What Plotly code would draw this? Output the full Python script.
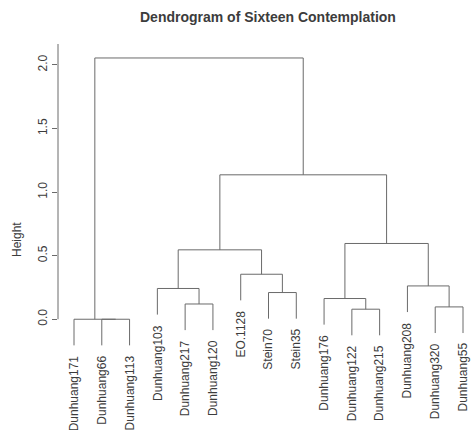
import plotly.graph_objects as go

# ---- data ----
labels = ["Dunhuang171", "Dunhuang66", "Dunhuang113", "Dunhuang103", "Dunhuang217",
          "Dunhuang120", "EO.1128", "Stein70", "Stein35", "Dunhuang176",
          "Dunhuang122", "Dunhuang215", "Dunhuang208", "Dunhuang320", "Dunhuang55"]
# R-style merge matrix: negative = leaf (1-based), positive = earlier merge (1-based)
merge_left = [-2, -1, -11, -14, -5, -10, -8, -4, -13, -7, 8, 6, 11, 2]
merge_right = [-3, 1, -12, -15, -6, 3, -9, 5, 4, 7, 10, 9, 12, 13]
merge_height = [0.0, 0.0, 0.079, 0.097, 0.12, 0.163, 0.21, 0.242, 0.262, 0.354,
                0.546, 0.596, 1.136, 2.055]
y_ticks = [0.0, 0.5, 1.0, 1.5, 2.0]
y_tick_text = ["0.0", "0.5", "1.0", "1.5", "2.0"]

title = "Dendrogram of Sixteen Contemplation"
y_title = "Height"

hang = 0.1 * max(merge_height)
line_color = "#6a6a6a"
text_color = "#3c3c3c"
font = "Liberation Sans, Arial, sans-serif"

W, H = 472, 430
ml, mt, mb = 58, 44, 73
# axis ranges
x_range = [1 - 16 / 27.786, 15 + 9 / 27.786]
y_range = [-0.297, 2.165]

# compute cluster positions
node_x = {}
node_h = {}
xs, ys = [], []
leaf_bottom = {}
for i, (a, b, h) in enumerate(zip(merge_left, merge_right, merge_height), start=1):
    def info(c):
        if c < 0:
            leaf_bottom[-c] = h - hang
            return float(-c), h - hang
        return node_x[c], node_h[c]
    xa, ya = info(a)
    xb, yb = info(b)
    xs += [xa, xa, xb, xb, None]
    ys += [ya, h, h, yb, None]
    node_x[i] = (xa + xb) / 2
    node_h[i] = h

fig = go.Figure()
fig.add_trace(go.Scatter(x=xs, y=ys, mode="lines",
                         line=dict(color=line_color, width=1),
                         hoverinfo="skip", showlegend=False))

annotations = []
for idx, lab in enumerate(labels, start=1):
    annotations.append(dict(x=idx, y=leaf_bottom[idx], xref="x", yref="y",
                            text=lab, showarrow=False, textangle=-90,
                            xanchor="center", yanchor="top", yshift=-8,
                            font=dict(family=font, size=12, color=text_color)))

annotations.append(dict(x=268, y=H - 17, xref="paper", yref="paper",
                        text="<b>" + title + "</b>", showarrow=False,
                        xanchor="center", yanchor="middle",
                        font=dict(family=font, size=14, color=text_color)))
annotations.append(dict(x=17, y=H - 240, xref="paper", yref="paper",
                        text=y_title, showarrow=False, textangle=-90,
                        xanchor="center", yanchor="middle",
                        font=dict(family=font, size=12, color=text_color)))

# convert paper-pixel annotations to paper fractions
pw = W - ml
ph = H - mt - mb
for a in annotations[-2:]:
    a["x"] = (a["x"] - ml) / pw
    a["y"] = (a["y"] - mb) / ph

fig.update_layout(
    width=W, height=H,
    margin=dict(l=ml, r=0, t=mt, b=mb, pad=0, autoexpand=False),
    paper_bgcolor="white", plot_bgcolor="white",
    annotations=annotations,
    hovermode=False,
    xaxis=dict(range=x_range, visible=False, showgrid=False, zeroline=False),
    yaxis=dict(range=y_range, showgrid=False, zeroline=False, showline=False,
               automargin=False,
               tickmode="array", tickvals=y_ticks, ticktext=y_tick_text,
               ticks="outside", ticklen=5, tickcolor=line_color, tickangle=-90,
               tickfont=dict(family=font, size=12, color=text_color)),
    shapes=[dict(type="line", xref="paper", yref="y", x0=0, x1=0,
                 y0=0, y1=y_range[1], line=dict(color=line_color, width=1))],
)

fig.write_html("out.html",
               config={"displayModeBar": False, "staticPlot": True},
               post_script="document.body.style.margin='0';document.body.style.overflow='hidden';")
